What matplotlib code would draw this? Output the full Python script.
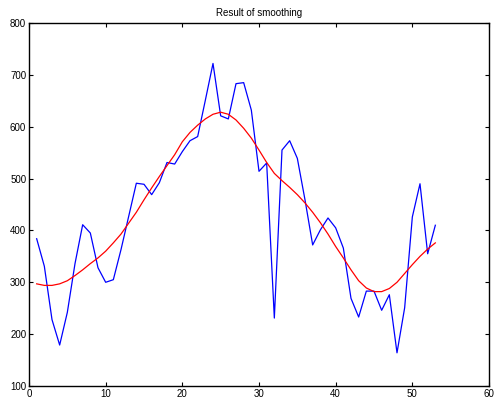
import numpy as np
import matplotlib
matplotlib.use("Agg")
import matplotlib.pyplot as plt

# raw series (blue) and smoothed series (red)
x = list(range(1, 54))
raw = [384, 331, 228, 179, 242, 336, 411, 395, 328, 300,
       305, 363, 427, 491, 489, 469, 492, 531, 528, 552,
       573, 581, 651, 722, 621, 615, 683, 685, 632, 514,
       530, 231, 555, 573, 539, 459, 372, 401, 424, 405,
       366, 269, 233, 283, 283, 246, 276, 164, 251, 426,
       490, 355, 410]
smooth = [297, 294, 294, 297, 303, 313, 324, 336, 347, 360,
          376, 393, 414, 435, 459, 482, 504, 525, 546, 571,
          589, 603, 615, 624, 628, 624, 613, 597, 578, 555,
          531, 510, 496, 483, 469, 453, 435, 415, 393, 369,
          347, 324, 303, 289, 282, 282, 288, 300, 317, 334,
          350, 364, 376]

plt.rcParams['font.family'] = ['Liberation Sans', 'DejaVu Sans']

fig = plt.figure(figsize=(4.96, 3.99), dpi=100)
ax = fig.add_axes([29/496, 1 - 386/399, (489 - 29)/496, (386 - 23)/399])

ax.plot(x, raw, color='#0000ff', linewidth=0.9)
ax.plot(x, smooth, color='#ff0000', linewidth=0.9)

ax.set_xlim(0, 60)
ax.set_ylim(100, 800)
ax.set_xticks(np.arange(0, 61, 10))
ax.set_yticks(np.arange(100, 801, 100))
ax.tick_params(direction='in', top=True, right=True, length=3, width=0.8,
               labelsize=7, pad=2)
for s in ax.spines.values():
    s.set_linewidth(1.0)
ax.set_title("Result of smoothing", fontsize=7, pad=5)

fig.savefig("out.png", dpi=100)
